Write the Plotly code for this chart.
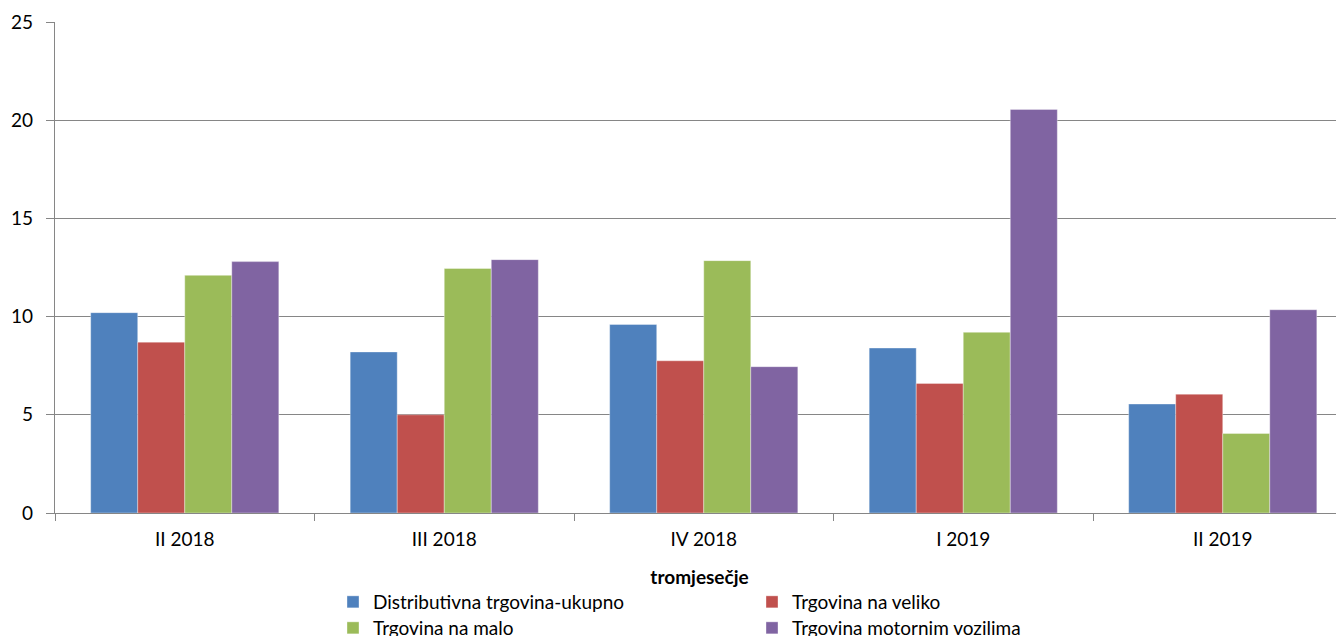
import plotly.graph_objects as go

categories = ["II 2018", "III 2018", "IV 2018", "I 2019", "II 2019"]
series_names = ["Distributivna trgovina-ukupno", "Trgovina na veliko",
                "Trgovina na malo", "Trgovina motornim vozilima"]
ukupno = [10.2, 8.2, 9.6, 8.4, 5.55]
veliko = [8.7, 5.0, 7.75, 6.6, 6.05]
malo = [12.1, 12.45, 12.85, 9.2, 4.05]
motorna = [12.8, 12.9, 7.45, 20.55, 10.35]
colors = ["#4F81BD", "#C0504D", "#9BBB59", "#8064A2"]
legend_ids = ["legend", "legend2", "legend3", "legend4"]
y_ticks = [0, 5, 10, 15, 20, 25]

FONT = "Lato"
FS = 19
OFF = 8  # default page body margin
W, H = 1344 - OFF, 636 - OFF
L, R, T, B = 55 - OFF, 0, 22 - OFF, 123
cat_px = 259.5
plot_w = W - L - R
plot_h = H - T - B
axis_bottom_px = 513  # page pixel of the x axis


def px_to_paper_x(px):
    return (px - OFF - L) / plot_w


def px_to_paper_y(py):
    return -(py - axis_bottom_px) / plot_h


fig = go.Figure()
for name, vals, col, lg in zip(series_names, [ukupno, veliko, malo, motorna], colors, legend_ids):
    fig.add_trace(go.Bar(
        x=categories, y=vals, name=name, legend=lg,
        marker=dict(color=col, line=dict(color="rgba(255,255,255,0.6)", width=0.6)),
    ))

leg_common = dict(
    orientation="v", yanchor="top", xanchor="left",
    font=dict(family=FONT, size=FS, color="#000000"),
    traceorder="normal", itemwidth=30, tracegroupgap=0,
    bgcolor="rgba(0,0,0,0)", borderwidth=0,
)
# legend entry centres (page px): two columns, two rows
col_text_px = [373, 792]
row_center_px = [601, 627]
center_to_top = 18

legends = {}
for i, lg in enumerate(legend_ids):
    cx = col_text_px[i % 2] - 40
    cy = row_center_px[i // 2] - center_to_top
    legends[lg] = dict(x=px_to_paper_x(cx), y=px_to_paper_y(cy), **leg_common)

fig.update_layout(
    width=W, height=H,
    margin=dict(l=L, r=R, t=T, b=B, pad=0, autoexpand=False),
    paper_bgcolor="white", plot_bgcolor="white",
    barmode="group", bargap=0.275, bargroupgap=0,
    font=dict(family=FONT, size=FS, color="#000000"),
    showlegend=True,
    xaxis=dict(
        type="category",
        range=[-0.5, -0.5 + plot_w / cat_px],
        showline=True, linecolor="#868686", linewidth=1.3,
        ticks="outside", tickson="boundaries", ticklen=7, tickcolor="#868686", tickwidth=1.3,
        showgrid=False, zeroline=False,
        tickfont=dict(family=FONT, size=FS, color="#000000"),
        ticklabelstandoff=9,
        title=dict(text="<b>tromjesečje</b>", font=dict(family=FONT, size=FS, color="#000000"), standoff=21),
    ),
    yaxis=dict(
        range=[0, 25], tickvals=y_ticks,
        showline=True, linecolor="#868686", linewidth=1.3,
        ticks="outside", ticklen=8, tickcolor="#868686", tickwidth=1.3,
        showgrid=True, gridcolor="#868686", gridwidth=1.3,
        zeroline=False,
        tickfont=dict(family=FONT, size=FS, color="#000000"),
        ticklabelstandoff=9,
    ),
    **legends,
)

fig.write_html("out.html")
